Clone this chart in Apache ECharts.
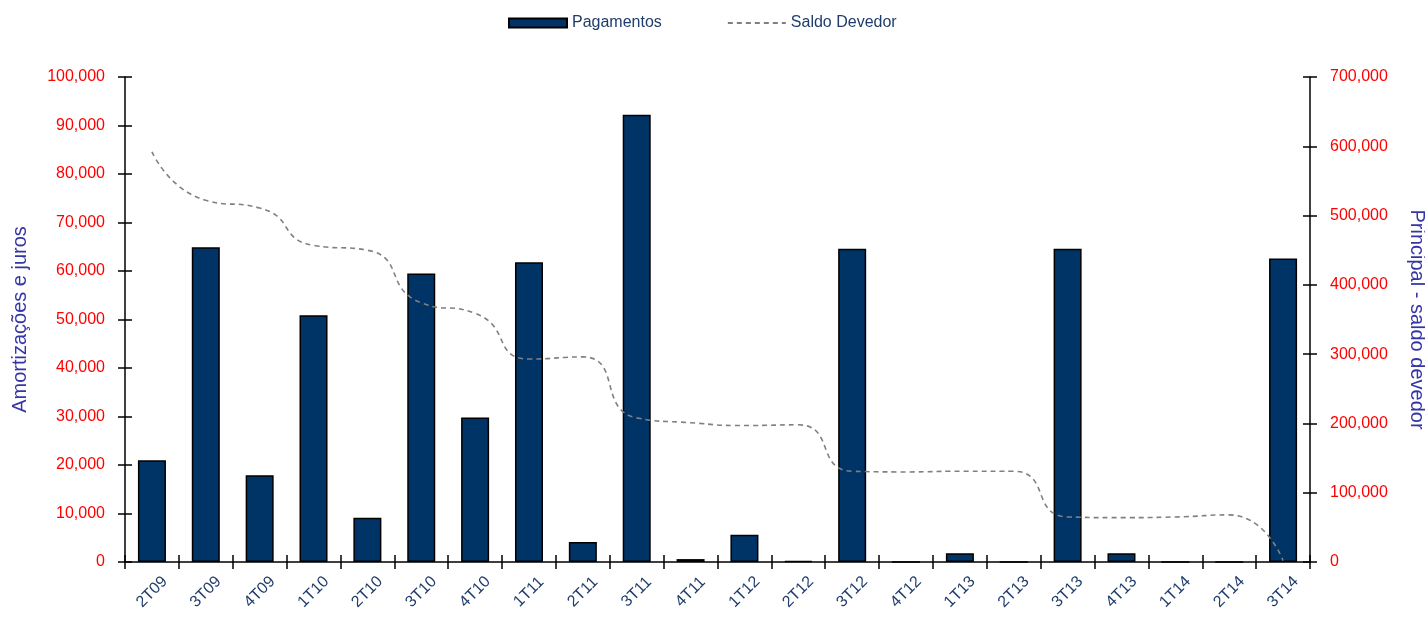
<!DOCTYPE html>
<html>
<head>
<meta charset="utf-8">
<script src="https://cdn.jsdelivr.net/npm/echarts@6/dist/echarts.min.js"></script>
<style>html,body{margin:0;padding:0;background:#fff}#c{width:1425px;height:621px}</style>
</head>
<body>
<div id="c"></div>
<script>
const categories = ['2T09','3T09','4T09','1T10','2T10','3T10','4T10','1T11','2T11','3T11','4T11','1T12','2T12','3T12','4T12','1T13','2T13','3T13','4T13','1T14','2T14','3T14'];
const pagamentos = [21000, 64900, 17900, 50900, 9100, 59500, 29800, 61800, 4100, 92200, 600, 5600, 200, 64600, 0, 1800, 0, 64600, 1800, 0, 0, 62600];
const saldoDevedor = [592000, 522000, 511000, 457000, 450000, 374000, 359000, 293000, 296000, 208000, 201000, 197000, 198000, 131000, 130000, 131000, 131000, 65000, 64000, 65000, 68000, 2000];
const leftTicks = {min: 0, max: 100000, interval: 10000};
const rightTicks = {min: 0, max: 700000, interval: 100000};

const FONT = 'Liberation Sans, Arial, sans-serif';
const fmt = v => v.toLocaleString('en-US');
const chart = echarts.init(document.getElementById('c'), null, {renderer: 'canvas'});

const hiddenY = (pos, t) => ({
  type: 'value', position: pos, min: t.min, max: t.max, interval: t.interval,
  axisLine: {show: false}, axisLabel: {show: false}, splitLine: {show: false},
  axisTick: {show: true, inside: true, length: 7, lineStyle: {color: '#000', width: 1.5}}
});

chart.setOption({
  animation: false,
  textStyle: {fontFamily: FONT},
  grid: {left: 125, right: 115, top: 77, bottom: 59, containLabel: false, outerBoundsMode: 'none'},
  legend: {
    top: 10, left: 503, itemGap: 65, itemWidth: 58, itemHeight: 9,
    textStyle: {color: '#1f3d6b', fontSize: 16, fontFamily: FONT},
    data: [
      {name: 'Pagamentos', icon: 'rect'},
      {name: 'Saldo Devedor', itemStyle: {opacity: 0}}
    ]
  },
  xAxis: [{
    type: 'category', data: categories, boundaryGap: true,
    axisLine: {lineStyle: {color: '#000', width: 1.5}},
    axisTick: {show: true, length: 7, lineStyle: {color: '#000', width: 1.5}},
    axisLabel: {rotate: 45, align: 'center', verticalAlign: 'middle', margin: 30, color: '#1f3d6b', fontSize: 16, fontFamily: FONT, interval: 0},
    splitLine: {show: false}
  }, {
    type: 'category', data: categories, boundaryGap: true, position: 'bottom',
    axisLine: {show: false}, axisLabel: {show: false},
    axisTick: {show: true, inside: true, length: 7, lineStyle: {color: '#000', width: 1.5}}
  }],
  yAxis: [{
    type: 'value', position: 'left', min: leftTicks.min, max: leftTicks.max, interval: leftTicks.interval,
    name: 'Amortizações e juros', nameLocation: 'middle', nameGap: 95, nameRotate: 90,
    nameTextStyle: {color: '#3535a5', fontSize: 20, fontFamily: FONT},
    axisLine: {show: true, lineStyle: {color: '#000', width: 1.5}},
    axisTick: {show: true, length: 7, lineStyle: {color: '#000', width: 1.5}},
    axisLabel: {color: '#ff0000', fontSize: 16, fontFamily: FONT, margin: 20, formatter: fmt},
    splitLine: {show: false}
  }, {
    type: 'value', position: 'right', min: rightTicks.min, max: rightTicks.max, interval: rightTicks.interval,
    name: 'Principal - saldo devedor', nameLocation: 'middle', nameGap: 97, nameRotate: -90,
    nameTextStyle: {color: '#3535a5', fontSize: 20, fontFamily: FONT},
    axisLine: {show: true, lineStyle: {color: '#000', width: 1.5}},
    axisTick: {show: true, length: 7, lineStyle: {color: '#000', width: 1.5}},
    axisLabel: {color: '#ff0000', fontSize: 16, fontFamily: FONT, margin: 20, formatter: fmt},
    splitLine: {show: false}
  }, hiddenY('left', leftTicks), hiddenY('right', rightTicks)],
  series: [{
    name: 'Pagamentos', type: 'bar', data: pagamentos, barWidth: '52%',
    xAxisIndex: 0, yAxisIndex: 0,
    itemStyle: {color: '#003366', borderColor: '#000', borderWidth: 1.5}
  }, {
    name: 'Saldo Devedor', type: 'line', data: saldoDevedor, smooth: 0.6,
    xAxisIndex: 0, yAxisIndex: 1, symbol: 'none', z: 5,
    lineStyle: {color: '#808080', width: 1.6, type: [5, 4]},
    itemStyle: {color: '#808080'}
  }]
});
</script>
</body>
</html>
